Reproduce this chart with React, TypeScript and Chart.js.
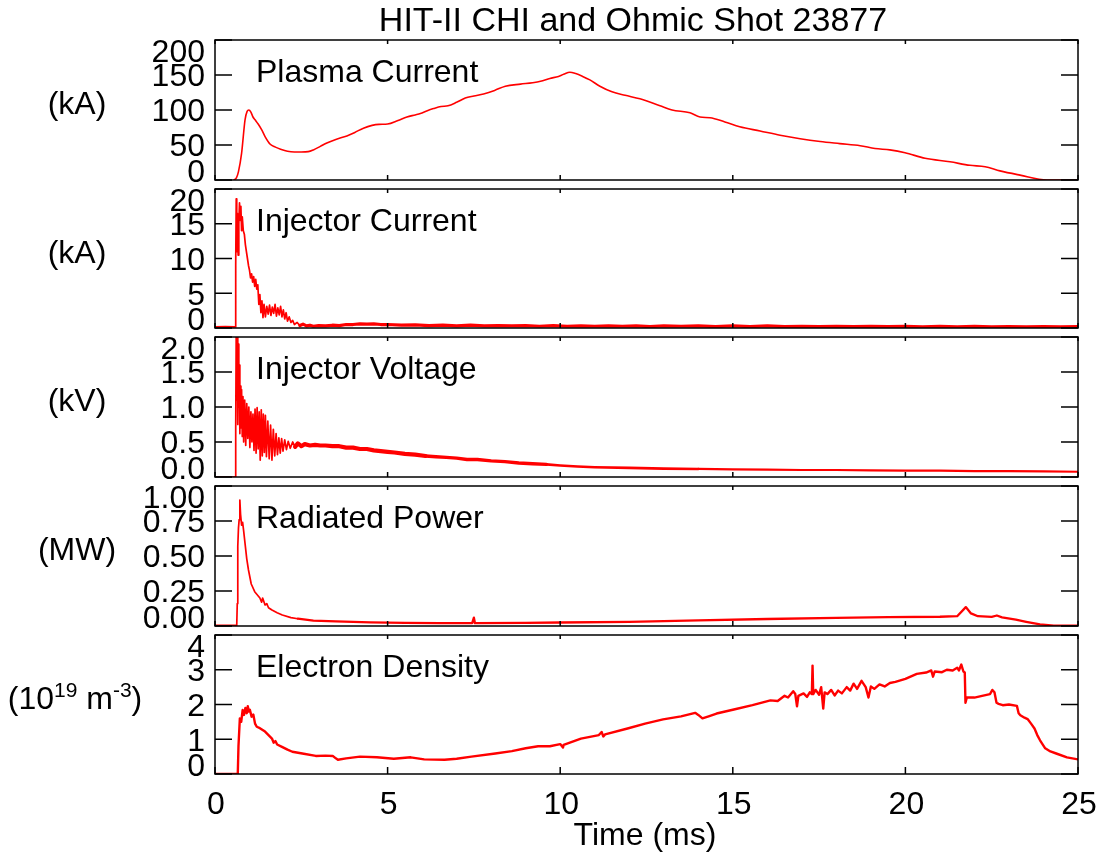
import React, { useEffect, useRef } from "react";
import { Chart, registerables } from "chart.js";

Chart.register(...registerables);

// ---------------- Data ----------------
const titleText = "HIT-II CHI and Ohmic Shot 23877";
const xAxisTitle = "Time (ms)";
const timeTicks = [0, 5, 10, 15, 20, 25];

const panelNames = ["Plasma Current", "Injector Current", "Injector Voltage", "Radiated Power", "Electron Density"];
const panelUnits = ["(kA)", "(kA)", "(kV)", "(MW)", "DENSITY_UNIT"];

const plasmaTicks = [0, 50, 100, 150, 200];
const plasmaTickLabels = ["0", "50", "100", "150", "200"];
const injCurTicks = [0, 5, 10, 15, 20];
const injCurTickLabels = ["0", "5", "10", "15", "20"];
const injVoltTicks = [0, 0.5, 1, 1.5, 2];
const injVoltTickLabels = ["0.0", "0.5", "1.0", "1.5", "2.0"];
const radTicks = [0, 0.25, 0.5, 0.75, 1];
const radTickLabels = ["0.00", "0.25", "0.50", "0.75", "1.00"];
const densTicks = [0, 1, 2, 3, 4];
const densTickLabels = ["0", "1", "2", "3", "4"];

const plasmaTime = [0.55, 0.62, 0.68, 0.77, 0.87, 0.93, 0.98, 1.04, 1.1, 1.16, 1.25, 1.35, 1.45, 1.6, 1.75, 1.9, 2.1, 2.3, 2.5, 2.7, 2.85, 3.05, 3.24, 3.5, 3.82, 4.05, 4.3, 4.55, 4.75, 5.0, 5.3, 5.56, 5.8, 5.95, 6.15, 6.33, 6.55, 6.75, 7.0, 7.25, 7.5, 7.78, 8.1, 8.41, 8.85, 9.2, 9.43, 9.7, 9.95, 10.1, 10.28, 10.45, 10.65, 10.86, 11.15, 11.5, 11.88, 12.31, 12.89, 13.24, 13.76, 14.05, 14.34, 14.77, 15.2, 15.79, 16.37, 16.95, 17.53, 18.1, 18.69, 19.12, 19.55, 19.99, 20.57, 21.29, 21.87, 22.31, 22.74, 23.32, 24.1, 25];
const plasmaCurrent = [0, 3, 12, 38, 86, 98, 100, 97, 90, 86, 80, 72, 62, 51, 47, 44, 41, 40, 40, 40.5, 43, 48, 53, 58, 63, 68, 74, 78, 79.5, 80, 85, 90, 93, 95, 99, 102, 105, 106, 111, 117, 120, 123, 128, 134, 137, 139, 141, 145, 148, 151, 154, 152, 148, 143, 134, 126, 121, 116, 106, 100, 96, 90, 89, 83, 76, 70, 64, 59, 55, 52, 49, 45, 43, 39, 31, 26, 21, 19, 13, 7, 0, 0];

const injCurTime = [0, 0.3, 0.58, 0.6, 0.615, 0.63, 0.65, 0.67, 0.69, 0.71, 0.73, 0.75, 0.77, 0.79, 0.82, 0.85, 0.88, 0.91, 0.94, 0.97, 1.0, 1.03, 1.06, 1.09, 1.12, 1.15, 1.18, 1.21, 1.24, 1.27, 1.3, 1.33, 1.36, 1.39, 1.42, 1.46, 1.5, 1.54, 1.58, 1.62, 1.66, 1.7, 1.74, 1.78, 1.82, 1.86, 1.9, 1.94, 1.98, 2.02, 2.06, 2.1, 2.15, 2.2, 2.25, 2.3, 2.38, 2.46, 2.55, 2.65, 2.75, 2.85, 3.0, 3.2, 3.4, 3.6, 3.8, 4.0, 4.2, 4.4, 4.6, 4.8, 5.0, 5.4, 5.8, 6.2, 6.6, 7.0, 7.4, 7.8, 8.2, 8.6, 9.0, 9.4, 9.8, 10.2, 10.6, 11.0, 11.4, 11.8, 12.2, 12.6, 13.0, 13.5, 14.0, 14.5, 15.0, 15.5, 16.0, 16.5, 17.0, 17.5, 18.0, 18.5, 19.0, 19.5, 20.0, 20.5, 21.0, 21.5, 22.0, 22.5, 23.0, 23.5, 24.0, 24.5, 25.0];
const injCurValue = [0.15, 0.2, 0.15, 9, 18.6, 11, 16.5, 10.5, 15, 18, 15.5, 17.5, 14, 16, 14, 13.5, 12, 11, 10, 9, 8.3, 7.2, 7.8, 6.6, 7.4, 6, 7, 5.6, 6.2, 3.4, 4.8, 2.2, 3.9, 1.5, 3.4, 1.6, 3.1, 2.0, 3.3, 1.8, 3.0, 2.1, 3.4, 1.7, 2.9, 1.9, 3.1, 1.6, 2.6, 1.3, 2.2, 1.0, 1.6, 0.8, 1.1, 0.5, 0.8, 0.35, 0.55, 0.3, 0.4, 0.25, 0.35, 0.3, 0.4, 0.35, 0.5, 0.5, 0.6, 0.55, 0.6, 0.5, 0.5, 0.4, 0.45, 0.35, 0.4, 0.3, 0.4, 0.3, 0.35, 0.3, 0.35, 0.25, 0.35, 0.25, 0.3, 0.25, 0.3, 0.25, 0.3, 0.2, 0.3, 0.25, 0.3, 0.2, 0.3, 0.2, 0.3, 0.2, 0.25, 0.2, 0.25, 0.2, 0.25, 0.2, 0.25, 0.15, 0.25, 0.15, 0.25, 0.15, 0.2, 0.15, 0.2, 0.15, 0.2];

const injVoltTime = [0, 0.59, 0.6, 0.615, 0.63, 0.645, 0.66, 0.675, 0.69, 0.705, 0.72, 0.735, 0.75, 0.77, 0.79, 0.81, 0.83, 0.86, 0.89, 0.92, 0.95, 0.98, 1.01, 1.04, 1.07, 1.1, 1.13, 1.16, 1.19, 1.22, 1.25, 1.28, 1.31, 1.34, 1.37, 1.4, 1.43, 1.46, 1.49, 1.53, 1.57, 1.61, 1.65, 1.69, 1.73, 1.77, 1.81, 1.85, 1.89, 1.93, 1.97, 2.02, 2.07, 2.12, 2.18, 2.25, 2.32, 2.4, 2.5, 2.6, 2.75, 2.9, 3.05, 3.2, 3.4, 3.6, 3.8, 4.0, 4.2, 4.4, 4.6, 4.8, 5.0, 5.2, 5.5, 5.8, 6.1, 6.4, 6.7, 7.0, 7.3, 7.6, 8.0, 8.4, 8.8, 9.2, 9.6, 10.0, 10.5, 11, 12, 13, 14, 15, 16, 17, 18, 19, 20, 21, 22, 23, 24, 25];
const injVoltValue = [0, 0, 0.7, 2.1, 1.1, 2.1, 0.75, 1.9, 1.0, 1.6, 0.62, 1.3, 0.7, 1.25, 0.58, 1.15, 0.5, 1.1, 0.45, 1.05, 0.55, 1.0, 0.42, 0.93, 0.5, 0.9, 0.38, 0.97, 0.34, 0.99, 0.4, 0.93, 0.24, 0.96, 0.3, 0.9, 0.35, 0.88, 0.29, 0.8, 0.26, 0.74, 0.24, 0.68, 0.3, 0.62, 0.32, 0.56, 0.34, 0.55, 0.37, 0.53, 0.39, 0.51, 0.41, 0.5, 0.43, 0.48, 0.44, 0.47, 0.45, 0.46, 0.45, 0.45, 0.44, 0.44, 0.42, 0.42, 0.4, 0.4, 0.38, 0.37, 0.36, 0.35, 0.33, 0.32, 0.3, 0.29, 0.28, 0.27, 0.25, 0.25, 0.23, 0.22, 0.2, 0.19, 0.18, 0.165, 0.15, 0.14, 0.13, 0.12, 0.115, 0.11, 0.105, 0.1, 0.1, 0.095, 0.09, 0.09, 0.085, 0.085, 0.08, 0.075];

const radTime = [0, 0.63, 0.645, 0.66, 0.68, 0.7, 0.72, 0.74, 0.77, 0.8, 0.83, 0.87, 0.92, 0.97, 1.05, 1.15, 1.3, 1.35, 1.38, 1.45, 1.5, 1.55, 1.65, 1.8, 1.95, 2.2, 2.4, 2.85, 3.5, 4.5, 5.5, 6.5, 7.45, 7.5, 7.53, 9, 10, 12, 14, 16, 18, 19.5, 21.0, 21.5, 21.75, 21.9, 22.1, 22.5, 22.65, 22.8, 23.2, 23.5, 23.9, 24.3, 25];
const radPower = [0.005, 0.005, 0.16, 0.57, 0.7, 0.76, 0.9, 0.8, 0.72, 0.74, 0.68, 0.59, 0.48, 0.4, 0.3, 0.245, 0.2, 0.17, 0.2, 0.15, 0.16, 0.13, 0.114, 0.095, 0.079, 0.06, 0.052, 0.038, 0.033, 0.026, 0.022, 0.02, 0.02, 0.06, 0.02, 0.022, 0.025, 0.03, 0.04, 0.05, 0.058, 0.064, 0.066, 0.07, 0.135, 0.09, 0.07, 0.065, 0.075, 0.062, 0.045, 0.03, 0.012, 0.003, 0.003];

const densTime = [0, 0.66, 0.68, 0.72, 0.76, 0.8, 0.84, 0.88, 0.92, 0.95, 0.98, 1.01, 1.06, 1.11, 1.16, 1.21, 1.3, 1.45, 1.55, 1.65, 1.7, 1.75, 1.8, 1.94, 2.1, 2.24, 2.53, 2.92, 3.2, 3.41, 3.5, 3.56, 3.8, 4.2, 4.69, 5.18, 5.67, 6.06, 6.65, 7.0, 7.43, 8.12, 8.6, 9.0, 9.36, 9.7, 10.0, 10.08, 10.1, 10.6, 11.12, 11.2, 11.25, 11.3, 11.95, 12.46, 12.98, 13.5, 13.91, 14.0, 14.12, 14.3, 14.53, 15, 15.57, 16.09, 16.3, 16.5, 16.6, 16.75, 16.81, 16.86, 16.9, 17.05, 17.15, 17.23, 17.29, 17.31, 17.33, 17.4, 17.5, 17.56, 17.62, 17.66, 17.74, 17.85, 17.95, 18.05, 18.16, 18.3, 18.4, 18.5, 18.6, 18.73, 18.85, 18.93, 19.0, 19.1, 19.25, 19.4, 19.55, 19.71, 20.0, 20.33, 20.6, 20.75, 20.8, 20.85, 21.06, 21.2, 21.37, 21.5, 21.55, 21.62, 21.68, 21.72, 21.74, 21.78, 22.0, 22.19, 22.45, 22.52, 22.58, 22.64, 22.7, 22.82, 23.0, 23.23, 23.28, 23.33, 23.45, 23.54, 23.64, 23.74, 23.82, 23.9, 24.05, 24.2, 24.37, 24.68, 25];
const densValue = [0, 0, 0.8, 1.6, 1.5, 1.84, 1.7, 1.9, 1.75, 1.95, 1.8, 1.85, 1.65, 1.71, 1.45, 1.36, 1.32, 1.22, 1.12, 1.02, 0.9, 0.95, 0.85, 0.78, 0.7, 0.64, 0.59, 0.52, 0.53, 0.52, 0.45, 0.41, 0.45, 0.5, 0.48, 0.44, 0.48, 0.42, 0.41, 0.44, 0.5, 0.59, 0.66, 0.74, 0.8, 0.8, 0.86, 0.76, 0.84, 1.02, 1.12, 1.21, 1.08, 1.14, 1.31, 1.45, 1.57, 1.66, 1.76, 1.7, 1.6, 1.66, 1.74, 1.85, 1.98, 2.12, 2.1, 2.25, 2.2, 2.38, 2.3, 1.95, 2.25, 2.32, 2.22, 2.35, 2.3, 3.12, 2.3, 2.42, 2.28, 2.5, 1.88, 2.35, 2.3, 2.42, 2.26, 2.4, 2.32, 2.5, 2.4, 2.6, 2.45, 2.68, 2.5, 2.2, 2.52, 2.45, 2.58, 2.52, 2.62, 2.65, 2.74, 2.88, 2.92, 2.98, 2.8, 2.95, 2.93, 3.0, 2.98, 3.06, 2.98, 3.15, 2.95, 2.92, 2.05, 2.2, 2.2, 2.24, 2.3, 2.42, 2.35, 2.05, 2.02, 1.98, 2.0, 1.96, 1.75, 1.69, 1.62, 1.58, 1.45, 1.31, 1.12, 0.97, 0.74, 0.65, 0.59, 0.48, 0.42];

// ---------------- Layout / style ----------------
const W = 1098;
const H = 857;
const PLOT_LEFT = 215;
const PLOT_RIGHT = 1078;
const PANEL_TOPS = [40, 189, 337, 486, 635];
const PANEL_BOTTOMS = [180, 328, 477, 626, 774];
const FONT_FAMILY = '"Liberation Sans", Arial, Helvetica, sans-serif';
const FONT_SIZE = 32;
const TITLE_SIZE = 34;
const RED = "#ff0000";

type PanelSpec = {
  times: number[];
  values: number[];
  min: number;
  max: number;
  ticks: number[];
  tickLabels: string[];
  widths: [number, number][]; // [from time, stroke width] – style only
  tension: number;
};

const panels: PanelSpec[] = [
  { times: plasmaTime, values: plasmaCurrent, min: 0, max: 200, ticks: plasmaTicks, tickLabels: plasmaTickLabels, widths: [[0, 1.6]], tension: 0.35 },
  { times: injCurTime, values: injCurValue, min: 0, max: 20, ticks: injCurTicks, tickLabels: injCurTickLabels, widths: [[0, 1.7], [2.45, 3.2]], tension: 0 },
  { times: injVoltTime, values: injVoltValue, min: 0, max: 2, ticks: injVoltTicks, tickLabels: injVoltTickLabels, widths: [[0, 1.7], [2.3, 4.2], [6, 3.4], [9.5, 2.6], [14, 2.2]], tension: 0 },
  { times: radTime, values: radPower, min: 0, max: 1, ticks: radTicks, tickLabels: radTickLabels, widths: [[0, 1.7], [2.4, 2.3]], tension: 0 },
  { times: densTime, values: densValue, min: 0, max: 4, ticks: densTicks, tickLabels: densTickLabels, widths: [[0, 2.4]], tension: 0 },
];

function font(size: number) {
  return `${size}px ${FONT_FAMILY}`;
}

function widthAt(spec: PanelSpec, t: number) {
  let w = spec.widths[0][1];
  for (const [from, width] of spec.widths) if (t >= from) w = width;
  return w;
}

function makeDecorPlugin(index: number) {
  return {
    id: "panelDecor" + index,
    afterDatasetsDraw(chart: any) {
      const ctx: CanvasRenderingContext2D = chart.ctx;
      const { left, right, top, bottom } = chart.chartArea;
      const xs = chart.scales.x;
      const ys = chart.scales.y;
      const spec = panels[index];
      const capHalf = FONT_SIZE * 0.358;
      ctx.save();
      ctx.strokeStyle = "#000";
      ctx.lineWidth = 1.5;
      ctx.strokeRect(left, top, right - left, bottom - top);
      ctx.beginPath();
      const isLast = index === panels.length - 1;
      for (const t of timeTicks) {
        const px = xs.getPixelForValue(t);
        ctx.moveTo(px, bottom);
        ctx.lineTo(px, bottom - (isLast ? 7 : 5));
        ctx.moveTo(px, top);
        ctx.lineTo(px, top + 4);
      }
      for (const v of spec.ticks) {
        const py = ys.getPixelForValue(v);
        ctx.moveTo(left, py);
        ctx.lineTo(left + 17, py);
        ctx.moveTo(right, py);
        ctx.lineTo(right - 17, py);
      }
      ctx.stroke();

      ctx.fillStyle = "#000";
      ctx.font = font(FONT_SIZE);
      // y tick labels
      ctx.textAlign = "right";
      ctx.textBaseline = "alphabetic";
      spec.ticks.forEach((v, i) => {
        const py = ys.getPixelForValue(v);
        const cy = Math.max(top + 10.5, Math.min(bottom - 9.5, py));
        ctx.fillText(spec.tickLabels[i], 205, cy + capHalf);
      });
      // panel name
      ctx.textAlign = "left";
      ctx.fillText(panelNames[index], 256, top + 42);
      // unit label
      const cyMid = (top + bottom) / 2;
      const unit = panelUnits[index];
      if (unit === "DENSITY_UNIT") {
        const supSize = 21;
        const parts: [string, boolean][] = [["(10", false], ["19", true], [" m", false], ["-3", true], [")", false]];
        let total = 0;
        const widths = parts.map(([s, sup]) => {
          ctx.font = font(sup ? supSize : FONT_SIZE);
          const w = ctx.measureText(s).width;
          total += w;
          return w;
        });
        let x = 75 - total / 2;
        const base = cyMid + 4;
        parts.forEach(([s, sup], i) => {
          ctx.font = font(sup ? supSize : FONT_SIZE);
          ctx.fillText(s, x, sup ? base - 12 : base);
          x += widths[i];
        });
        ctx.font = font(FONT_SIZE);
      } else {
        ctx.textAlign = "center";
        ctx.fillText(unit, 77, cyMid + 4);
      }
      // title
      if (index === 0) {
        ctx.textAlign = "center";
        ctx.font = font(TITLE_SIZE);
        ctx.fillText(titleText, 633, 31);
        ctx.font = font(FONT_SIZE);
      }
      // x tick labels + title
      if (isLast) {
        ctx.textAlign = "center";
        for (const t of timeTicks) {
          const px = xs.getPixelForValue(t);
          ctx.fillText(String(t), px + 1, 814);
        }
        ctx.fillText(xAxisTitle, 645, 845);
      }
      ctx.restore();
    },
  };
}

function Panel({ index }: { index: number }) {
  const ref = useRef<HTMLCanvasElement | null>(null);
  useEffect(() => {
    const canvas = ref.current;
    if (!canvas) return;
    const spec = panels[index];
    const points = spec.times.map((t, i) => ({ x: t, y: spec.values[i] }));
    const chart = new Chart(canvas, {
      type: "line",
      data: {
        datasets: [
          {
            data: points,
            borderColor: RED,
            borderWidth: spec.widths[0][1],
            segment: {
              borderWidth: (c: any) => widthAt(spec, c.p0.parsed.x),
            },
            borderJoinStyle: "round",
            borderCapStyle: "round",
            pointRadius: 0,
            tension: spec.tension,
            cubicInterpolationMode: spec.tension > 0 ? "monotone" : "default",
            fill: false,
            clip: 0,
          } as any,
        ],
      },
      options: {
        responsive: false,
        animation: false,
        events: [],
        parsing: false as any,
        layout: {
          padding: {
            left: PLOT_LEFT,
            right: W - PLOT_RIGHT,
            top: PANEL_TOPS[index],
            bottom: H - PANEL_BOTTOMS[index],
          },
        },
        scales: {
          x: { type: "linear", min: 0, max: 25, display: false },
          y: { type: "linear", min: spec.min, max: spec.max, display: false },
        },
        plugins: { legend: { display: false }, tooltip: { enabled: false }, title: { display: false } },
      },
      plugins: [makeDecorPlugin(index)],
    });
    return () => chart.destroy();
  }, [index]);
  return (
    <canvas
      ref={ref}
      width={W}
      height={H}
      style={{ position: "absolute", left: 0, top: 0, width: W, height: H }}
    />
  );
}

export default function App() {
  return (
    <div style={{ position: "absolute", left: 0, top: 0, width: W, height: H, background: "#fff" }}>
      {panels.map((_, i) => (
        <Panel key={i} index={i} />
      ))}
    </div>
  );
}
